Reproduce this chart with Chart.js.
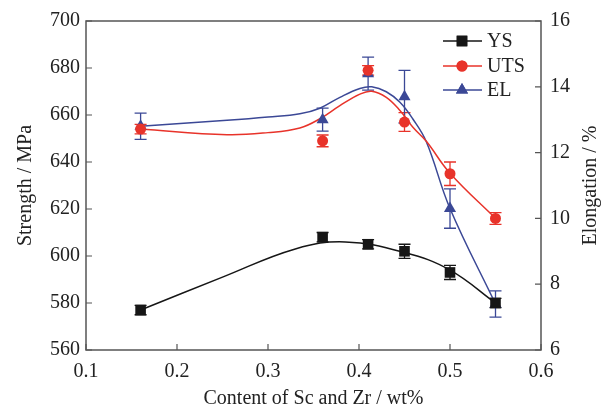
<!DOCTYPE html>
<html><head><meta charset="utf-8">
<script src="https://cdn.jsdelivr.net/npm/chart.js@4/dist/chart.umd.min.js"></script>
<style>html,body{margin:0;padding:0;background:#fff}#c{display:block}</style>
</head><body>
<canvas id="c" width="609" height="410"></canvas>
<script>
// ---- data ----
const content = [0.16, 0.36, 0.41, 0.45, 0.50, 0.55];
const ysValues = [577, 608, 605, 602, 593, 580];
const ysErr = [2, 2, 2, 3, 3, 2];
const utsValues = [654, 649, 679, 657, 635, 616];
const utsErr = [2, 2.5, 2, 4, 5, 2.5];
const elValues = [12.8, 13.0, 14.4, 13.7, 10.3, 7.4];
const elErr = [0.4, 0.35, 0.5, 0.8, 0.6, 0.4];
// fitted curves
const ysFitX = [0.16, 0.25, 0.33, 0.385, 0.45, 0.50, 0.55];
const ysFitY = [577, 591, 603, 606, 601.5, 594, 580];
const utsFitX = [0.16, 0.255, 0.30, 0.335, 0.357, 0.379, 0.401, 0.414, 0.43, 0.445, 0.459, 0.474, 0.50, 0.55];
const utsFitY = [654, 651.6, 652.5, 654.5, 658.4, 664, 668.9, 670.1, 667.5, 661.9, 654.9, 648.8, 635.2, 616];
const elFitX = [0.16, 0.255, 0.30, 0.335, 0.357, 0.379, 0.401, 0.414, 0.43, 0.445, 0.459, 0.474, 0.50, 0.55];
const elFitY = [12.8, 12.98, 13.08, 13.18, 13.35, 13.68, 13.95, 14.0, 13.85, 13.53, 13.03, 12.33, 10.3, 7.4];
const xTicks = [0.1, 0.2, 0.3, 0.4, 0.5, 0.6];
const leftTicks = [560, 580, 600, 620, 640, 660, 680, 700];
const rightTicks = [6, 8, 10, 12, 14, 16];
const seriesNames = ['YS', 'UTS', 'EL'];

const BLACK = '#161616', RED = '#e8332a', BLUE = '#3b4896', AXIS = '#555';
const FONT = '"Liberation Serif", "DejaVu Serif", serif';
const zip = (xs, ys) => xs.map((x, i) => ({x, y: ys[i]}));

const errorBars = {
  id: 'errorBars',
  beforeDatasetsDraw(chart) {
    const ctx = chart.ctx;
    chart.data.datasets.forEach((ds) => {
      if (!ds.errors) return;
      const ys = chart.scales[ds.yAxisID];
      const xs = chart.scales.x;
      ctx.save();
      ctx.strokeStyle = ds.borderColor;
      ctx.lineWidth = 1.3;
      ds.data.forEach((p, i) => {
        const e = ds.errors[i];
        const px = xs.getPixelForValue(p.x);
        const t = ys.getPixelForValue(p.y + e), b = ys.getPixelForValue(p.y - e);
        ctx.beginPath();
        ctx.moveTo(px, t); ctx.lineTo(px, b);
        ctx.moveTo(px - 6, t); ctx.lineTo(px + 6, t);
        ctx.moveTo(px - 6, b); ctx.lineTo(px + 6, b);
        ctx.stroke();
      });
      ctx.restore();
    });
  }
};

const frame = {
  id: 'frame',
  afterDraw(chart) {
    const ctx = chart.ctx, a = chart.chartArea;
    const x = chart.scales.x, yl = chart.scales.y, yr = chart.scales.y2;
    ctx.save();
    ctx.strokeStyle = AXIS; ctx.lineWidth = 1.5;
    ctx.beginPath();
    ctx.moveTo(a.left, a.top); ctx.lineTo(a.right, a.top);
    ctx.lineTo(a.right, a.bottom); ctx.lineTo(a.left, a.bottom); ctx.closePath();
    ctx.stroke();
    ctx.lineWidth = 1.2;
    ctx.beginPath();
    xTicks.forEach(v => { const p = x.getPixelForValue(v); ctx.moveTo(p, a.bottom); ctx.lineTo(p, a.bottom - 6); });
    leftTicks.forEach(v => { const p = yl.getPixelForValue(v); ctx.moveTo(a.left, p); ctx.lineTo(a.left + 6, p); });
    rightTicks.forEach(v => { const p = yr.getPixelForValue(v); ctx.moveTo(a.right, p); ctx.lineTo(a.right - 6, p); });
    ctx.stroke();
    // axis titles
    ctx.fillStyle = '#222';
    ctx.font = '20px ' + FONT;
    ctx.textAlign = 'center'; ctx.textBaseline = 'middle';
    ctx.fillText('Content of Sc and Zr / wt%', (a.left + a.right) / 2, 399);
    ctx.save(); ctx.translate(26, (a.top + a.bottom) / 2); ctx.rotate(-Math.PI / 2);
    ctx.fillText('Strength / MPa', 0, 0); ctx.restore();
    ctx.save(); ctx.translate(591, (a.top + a.bottom) / 2); ctx.rotate(-Math.PI / 2);
    ctx.fillText('Elongation / %', 0, 0); ctx.restore();
    // legend
    const cols = [BLACK, RED, BLUE], styles = ['rect', 'circle', 'triangle'], rads = [7.5, 5.5, 7];
    const rowsY = [41, 66, 90];
    seriesNames.forEach((n, i) => {
      ctx.strokeStyle = cols[i]; ctx.lineWidth = 1.5;
      ctx.beginPath(); ctx.moveTo(443, rowsY[i]); ctx.lineTo(482, rowsY[i]); ctx.stroke();
      ctx.fillStyle = cols[i];
      Chart.helpers.drawPoint(ctx, {pointStyle: styles[i], radius: rads[i], borderWidth: 0}, 462, rowsY[i]);
      ctx.fill();
      ctx.fillStyle = '#222'; ctx.textAlign = 'left';
      ctx.fillText(n, 487, rowsY[i] + 1);
    });
    ctx.restore();
  }
};

const lineDs = (data, color, axis) => ({
  type: 'line', data, yAxisID: axis, borderColor: color, borderWidth: 1.5,
  pointRadius: 0, fill: false, tension: 0.4, order: 2
});
const markDs = (data, color, axis, style, r, errors) => ({
  type: 'scatter', data, yAxisID: axis, borderColor: color, backgroundColor: color,
  pointStyle: style, pointRadius: r, pointBorderWidth: 0, showLine: false, errors, order: 1
});

function build() {
  new Chart(document.getElementById('c'), {
    data: {
      datasets: [
        lineDs(zip(ysFitX, ysFitY), BLACK, 'y'),
        lineDs(zip(utsFitX, utsFitY), RED, 'y'),
        lineDs(zip(elFitX, elFitY), BLUE, 'y2'),
        markDs(zip(content, ysValues), BLACK, 'y', 'rect', 7.5, ysErr),
        markDs(zip(content, utsValues), RED, 'y', 'circle', 5.5, utsErr),
        markDs(zip(content, elValues), BLUE, 'y2', 'triangle', 7, elErr)
      ]
    },
    options: {
      responsive: false, animation: false, devicePixelRatio: 1,
      layout: {padding: {top: 18, left: 0, right: 0, bottom: 0}},
      plugins: {legend: {display: false}, tooltip: {enabled: false}},
      scales: {
        x: {
          type: 'linear', min: 0.1, max: 0.6,
          afterBuildTicks: s => { s.ticks = xTicks.map(v => ({value: v})); },
          afterFit: s => { s.height = 60; },
          grid: {display: false, drawTicks: false}, border: {display: false},
          ticks: {padding: 10, color: '#222', font: {family: FONT, size: 20}, callback: v => v.toFixed(1), maxRotation: 0}
        },
        y: {
          type: 'linear', position: 'left', min: 560, max: 700,
          afterBuildTicks: s => { s.ticks = leftTicks.map(v => ({value: v})); },
          afterFit: s => { s.width = 86; },
          grid: {display: false, drawTicks: false}, border: {display: false},
          ticks: {padding: 6, color: '#222', font: {family: FONT, size: 20}}
        },
        y2: {
          type: 'linear', position: 'right', min: 6, max: 16,
          afterBuildTicks: s => { s.ticks = rightTicks.map(v => ({value: v})); },
          afterFit: s => { s.width = 68; },
          grid: {display: false, drawTicks: false}, border: {display: false},
          ticks: {padding: 9, color: '#222', font: {family: FONT, size: 20}}
        }
      }
    },
    plugins: [errorBars, frame]
  });
}
if (document.fonts && document.fonts.load) {
  document.fonts.load('20px "Liberation Serif"').then(build, build);
} else build();
</script>
</body></html>
